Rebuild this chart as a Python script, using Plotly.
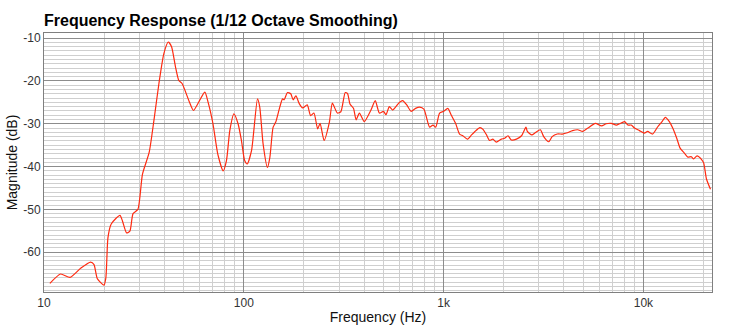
import numpy as np
import plotly.graph_objects as go

freq_hz = [10.7, 12.1, 13.5, 15.3, 17.1, 17.8, 18.5, 19.95, 20.4, 20.9, 21.7, 24.0, 24.7, 25.9, 26.9,
           27.9, 29.5, 31.1, 33.6, 35.5, 37.6, 39.8, 41.9, 43.5, 45.5, 47.3, 49.1, 53.5, 56.0, 63.8,
           66.3, 70.1, 74.1, 78.8, 81.9, 85.1, 89.2, 93.6, 97.3, 101, 104, 109.3, 117.1, 120.2, 124.9,
           131.3, 135, 140.2, 144.5, 151.4, 156.3, 159.2, 165.4, 171.8, 176.6, 182.3, 189.5, 196.9,
           207.7, 216, 224.4, 234.2, 240.9, 252.3, 268.2, 277.5, 294, 306, 322, 331, 340, 354, 365,
           379, 401, 433, 455, 477, 500, 515, 535, 556, 601, 624, 654, 688, 724, 758, 797, 851, 885,
           913, 955, 1000, 1050, 1090, 1148, 1202, 1248, 1315, 1380, 1435, 1520, 1575, 1640, 1700,
           1765, 1836, 1945, 2020, 2100, 2185, 2315, 2455, 2585, 2625, 2765, 2875, 3050, 3170, 3360,
           3495, 3705, 3930, 4165, 4420, 4690, 4970, 5275, 5750, 6170, 6510, 6900, 7320, 7590, 8050,
           8360, 8690, 9030, 9550, 10120, 10500, 11130, 11800, 12400, 12880, 13490, 14020, 14690,
           15270, 16070, 16700, 17370, 17840, 18560, 19520, 20050, 20690, 21670]
magnitude_db = [-67.3, -65.1, -65.9, -63.7, -62.3, -62.9, -66.2, -67.7, -66.0, -56.6, -53.4, -51.4, -52.7,
                -55.5, -55.1, -51.0, -50.0, -41.8, -36.7, -29.2, -20.6, -13.6, -10.9, -12.0, -16.7, -19.9,
                -20.6, -25.0, -26.9, -22.6, -25.0, -30.0, -37.1, -41.0, -38.6, -31.6, -27.7, -30.0, -33.9,
                -38.6, -39.4, -36.3, -24.2, -26.1, -34.7, -40.2, -37.9, -30.8, -29.6, -26.1, -24.2, -24.4,
                -22.7, -23.0, -24.4, -23.5, -25.3, -26.3, -25.6, -28.1, -27.5, -31.2, -29.9, -33.9, -29.6,
                -25.2, -27.5, -27.2, -22.7, -23.0, -25.4, -26.4, -29.1, -27.5, -29.5, -26.8, -24.6, -27.5,
                -27.1, -27.9, -26.0, -26.8, -25.0, -24.6, -25.6, -27.1, -26.4, -26.1, -26.6, -30.8, -30.3,
                -30.8, -27.5, -27.1, -26.4, -27.9, -29.9, -32.4, -32.8, -33.6, -32.6, -31.8, -30.9, -31.3,
                -32.6, -33.9, -33.6, -34.3, -33.6, -33.4, -32.8, -33.8, -33.6, -32.8, -30.8, -31.8, -32.6,
                -32.1, -31.4, -33.0, -34.2, -33.0, -32.4, -32.4, -32.1, -31.6, -31.4, -31.8, -31.0, -29.9,
                -30.5, -30.0, -29.9, -30.3, -30.0, -29.5, -30.3, -30.3, -31.0, -31.6, -32.2, -31.8, -32.4,
                -30.7, -29.5, -28.5, -29.5, -31.0, -33.4, -35.7, -36.9, -37.8, -37.7, -38.2, -37.5, -38.3,
                -39.2, -42.9, -45.3]

x_tick_vals = [10, 100, 1000, 10000]
x_tick_text = ["10", "100", "1k", "10k"]
y_tick_vals = [-10, -20, -30, -40, -50, -60]
y_tick_text = ["-10", "-20", "-30", "-40", "-50", "-60"]

x_minor = [m * d for d in (10, 100, 1000, 10000) for m in range(2, 10)]

fig = go.Figure()
fig.add_trace(go.Scatter(x=freq_hz, y=magnitude_db, mode="lines",
                         line=dict(color="#ff2a10", width=1.2, shape="spline", smoothing=0.6),
                         hoverinfo="skip", showlegend=False))

font_family = "Liberation Sans, Arial, Helvetica, sans-serif"
fig.update_layout(
    width=740, height=325,
    margin=dict(l=44, r=28, t=33, b=33),
    paper_bgcolor="white", plot_bgcolor="white",
    font=dict(family=font_family, color="#333333", size=12),
    title=dict(text="<b>Frequency Response (1/12 Octave Smoothing)</b>",
               x=44 / 740, xanchor="left", y=1 - 20 / 325, yanchor="middle",
               font=dict(size=16, color="black", family=font_family)),
)
fig.update_xaxes(
    type="log", range=[1, np.log10(22050)], automargin=False,
    tickvals=x_tick_vals, ticktext=x_tick_text,
    showgrid=True, gridcolor="#8c8c8c", gridwidth=1,
    minor=dict(tickvals=x_minor, showgrid=True, gridcolor="#cfcfcf", gridwidth=1, ticks=""),
    showline=True, linecolor="#7f7f7f", linewidth=1, mirror=True,
    ticks="", ticklen=0,
    tickfont=dict(size=12, color="#333333"),
    title=dict(text="Frequency (Hz)", font=dict(size=14, color="#111111"), standoff=2),
    zeroline=False,
)
fig.update_yaxes(
    range=[-69.3, -8.8], automargin=False,
    tickvals=y_tick_vals, ticktext=y_tick_text,
    showgrid=True, gridcolor="#8c8c8c", gridwidth=1,
    minor=dict(dtick=1, showgrid=True, gridcolor="#cfcfcf", gridwidth=1, ticks=""),
    showline=True, linecolor="#7f7f7f", linewidth=1, mirror=True,
    ticks="", ticklen=0,
    tickfont=dict(size=12, color="#333333"),
    title=dict(text="Magnitude (dB)", font=dict(size=14, color="#111111"), standoff=2),
    zeroline=False,
)

fig.write_html("out.html")
